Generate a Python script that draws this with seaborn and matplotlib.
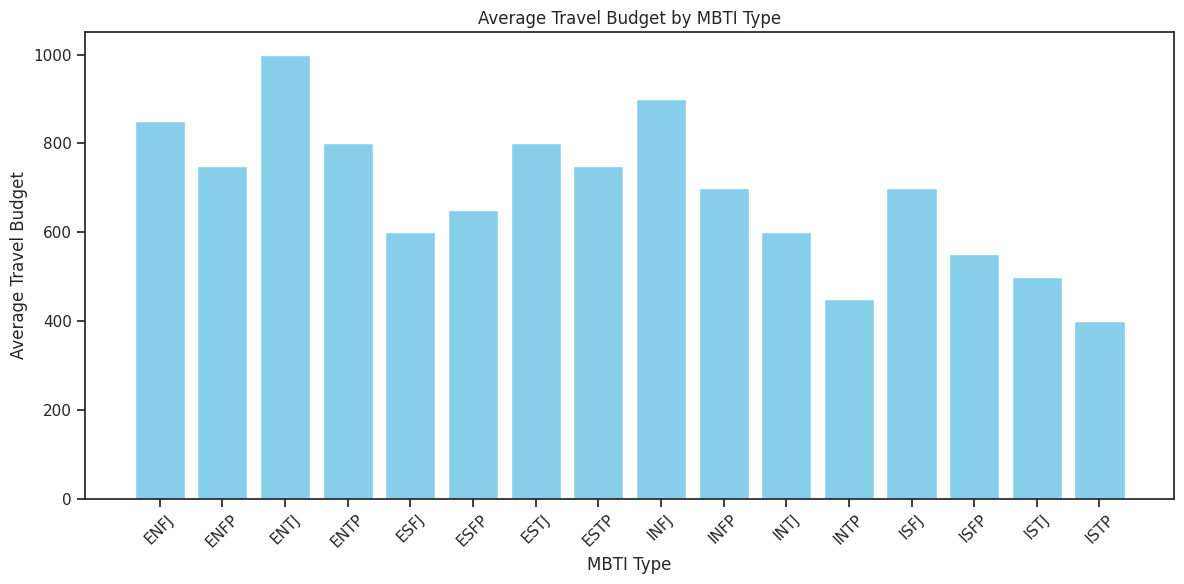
import matplotlib
matplotlib.use("Agg")
import matplotlib.pyplot as plt
import seaborn as sns
import pandas as pd

types = ["ENFJ", "ENFP", "ENTJ", "ENTP", "ESFJ", "ESFP", "ESTJ", "ESTP",
         "INFJ", "INFP", "INTJ", "INTP", "ISFJ", "ISFP", "ISTJ", "ISTP"]
budgets = [850, 750, 1000, 800, 600, 650, 800, 750,
           900, 700, 600, 450, 700, 550, 500, 400]

sns.set_theme(style="ticks")
df = pd.DataFrame({"MBTI Type": types, "Average Travel Budget": budgets})

fig, ax = plt.subplots(figsize=(12, 6), dpi=100)
sns.barplot(data=df, x="MBTI Type", y="Average Travel Budget", color="skyblue",
            saturation=1, width=0.8, ax=ax, errorbar=None)
n = len(types)
ax.set_xlim(-0.4 - 0.05 * (n - 0.2), n - 1 + 0.4 + 0.05 * (n - 0.2))
ax.set_title("Average Travel Budget by MBTI Type")
ax.set_xlabel("MBTI Type")
ax.set_ylabel("Average Travel Budget")
plt.xticks(rotation=45)
plt.tight_layout()
fig.savefig("out.png", dpi=100, bbox_inches="tight")
